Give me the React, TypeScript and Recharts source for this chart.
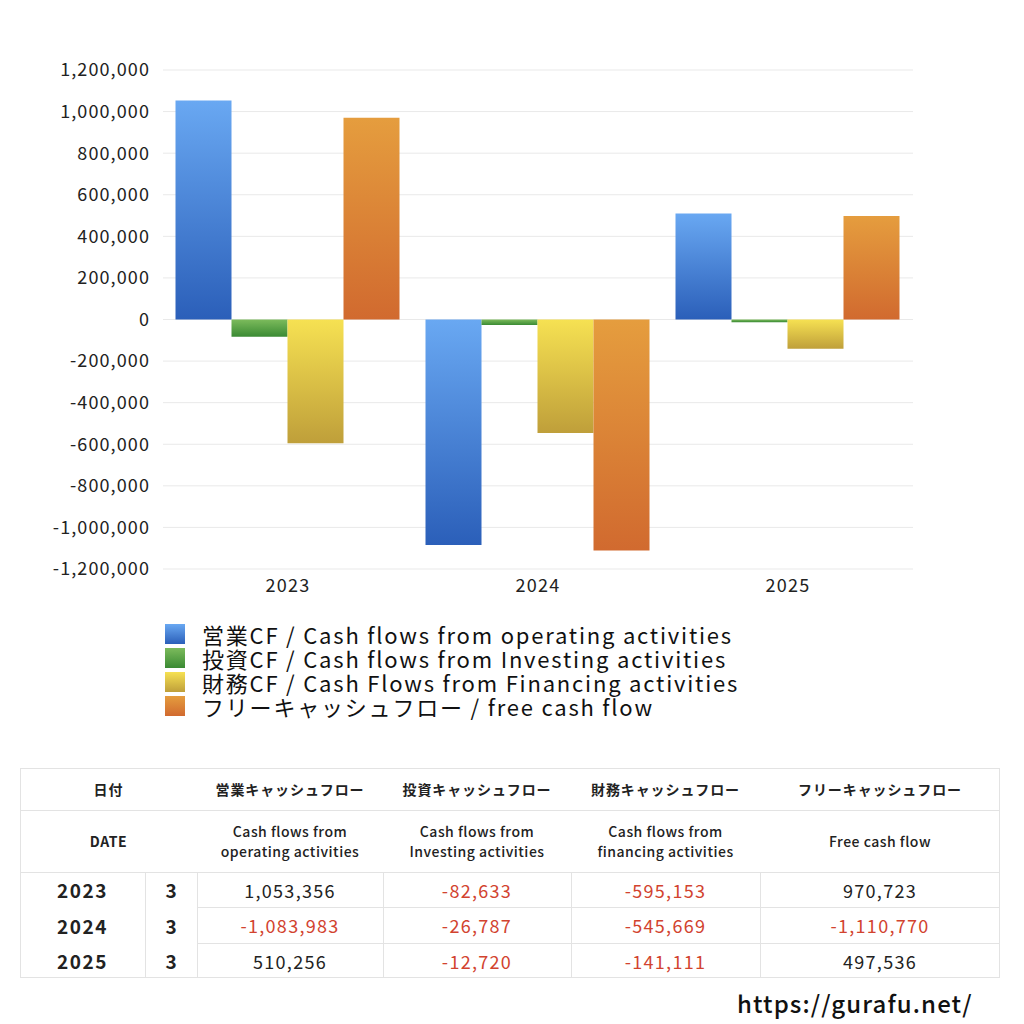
import React from 'react';
import { BarChart, Bar, XAxis, YAxis, CartesianGrid } from 'recharts';

const years = ['2023', '2024', '2025'];
const months = ['3', '3', '3'];
const operating = [1053356, -1083983, 510256];
const investing = [-82633, -26787, -12720];
const financing = [-595153, -545669, -141111];
const freeCash = [970723, -1110770, 497536];
const yTicks = [-1200000, -1000000, -800000, -600000, -400000, -200000, 0, 200000, 400000, 600000, 800000, 1000000, 1200000];

const seriesNames = [
  '営業CF / Cash flows from operating activities',
  '投資CF / Cash flows from Investing activities',
  '財務CF / Cash Flows from Financing activities',
  'フリーキャッシュフロー / free cash flow',
];
const headJa = ['営業キャッシュフロー', '投資キャッシュフロー', '財務キャッシュフロー', 'フリーキャッシュフロー'];
const headEn = [['Cash flows from', 'operating activities'], ['Cash flows from', 'Investing activities'], ['Cash flows from', 'financing activities'], ['Free cash flow']];

const gradients = [
  { id: 'gOp', top: '#69a8f2', bottom: '#2b5fb9' },
  { id: 'gInv', top: '#7cbb5c', bottom: '#3a8a33' },
  { id: 'gFin', top: '#f6e152', bottom: '#bf9f3a' },
  { id: 'gFree', top: '#e59d3e', bottom: '#d16a2f' },
];

const data = years.map((y, i) => ({
  year: y,
  op: operating[i],
  inv: investing[i],
  fin: financing[i],
  free: freeCash[i],
}));
const keys = ['op', 'inv', 'fin', 'free'];
const tableSeries = [operating, investing, financing, freeCash];

const font = '"Noto Sans CJK JP", "Noto Sans", sans-serif';
const fmt = (v: number) => v.toLocaleString('en-US');
const border = '#e3e3e3';

const colX = [20, 145, 197, 383, 571, 760, 1000];

export default function App() {
  return (
    <div style={{ position: 'absolute', left: 0, top: 0, width: 1024, height: 1024, background: '#fff', fontFamily: font, color: '#222' }}>
      <div style={{ position: 'absolute', left: 0, top: 0 }}>
        <BarChart width={1024} height={600} data={data} margin={{ top: 70, right: 111, left: 0, bottom: 1 }} barCategoryGap="5%" barGap={0}>
          <defs>
            {gradients.map((g) => (
              <linearGradient key={g.id} id={g.id} x1="0" y1="0" x2="0" y2="1">
                <stop offset="0%" stopColor={g.top} />
                <stop offset="100%" stopColor={g.bottom} />
              </linearGradient>
            ))}
          </defs>
          <CartesianGrid vertical={false} stroke="#e9e9e9" />
          <XAxis dataKey="year" axisLine={false} tickLine={false} tickMargin={4} tick={{ fontSize: 18, fill: '#222', fontFamily: font, style: { letterSpacing: '1.2px' } }} />
          <YAxis
            width={163}
            domain={[-1200000, 1200000]}
            ticks={yTicks}
            interval={0}
            axisLine={false}
            tickLine={false}
            tickMargin={7}
            tickFormatter={fmt}
            tick={{ fontSize: 18, fill: '#222', fontFamily: font, style: { letterSpacing: '1.1px' } }}
          />
          {keys.map((k, i) => (
            <Bar key={k} dataKey={k} fill={`url(#${gradients[i].id})`} isAnimationActive={false} />
          ))}
        </BarChart>
      </div>

      {/* Legend */}
      <div style={{ position: 'absolute', left: 165, top: 622 }}>
        {seriesNames.map((n, i) => (
          <div key={n} style={{ display: 'flex', alignItems: 'center', height: 24 }}>
            <div style={{ width: 20, height: 20, background: `linear-gradient(${gradients[i].top}, ${gradients[i].bottom})`, marginRight: 17 }} />
            <span style={{ fontSize: 22, lineHeight: '24px', color: '#111', whiteSpace: 'nowrap', letterSpacing: '1.8px' }}>{n}</span>
          </div>
        ))}
      </div>

      {/* Table */}
      <div style={{ position: 'absolute', left: 20, top: 768, width: 980, height: 210, border: `1px solid ${border}`, boxSizing: 'border-box' }} />
      <div style={{ position: 'absolute', left: 20, top: 810, width: 980, height: 1, background: border }} />
      <div style={{ position: 'absolute', left: 20, top: 872, width: 980, height: 1, background: border }} />
      <div style={{ position: 'absolute', left: 197, top: 907, width: 803, height: 1, background: border }} />
      <div style={{ position: 'absolute', left: 197, top: 943, width: 803, height: 1, background: border }} />
      {[145, 197, 383, 571, 760].map((x) => (
        <div key={x} style={{ position: 'absolute', left: x, top: 872, width: 1, height: 106, background: border }} />
      ))}

      <div style={{ position: 'absolute', left: 20, top: 768, width: 177, height: 42, display: 'flex', alignItems: 'center', justifyContent: 'center', fontSize: 14, fontWeight: 700, letterSpacing: '1px' }}>日付</div>
      <div style={{ position: 'absolute', left: 20, top: 810, width: 177, height: 62, display: 'flex', alignItems: 'center', justifyContent: 'center', fontSize: 14, fontWeight: 700, letterSpacing: '0.6px' }}>DATE</div>
      {headJa.map((h, i) => (
        <div key={h} style={{ position: 'absolute', left: colX[i + 2], top: 768, width: colX[i + 3] - colX[i + 2], height: 42, display: 'flex', alignItems: 'center', justifyContent: 'center', fontSize: 14, fontWeight: 700, letterSpacing: '0.9px' }}>{h}</div>
      ))}
      {headEn.map((h, i) => (
        <div key={i} style={{ position: 'absolute', left: colX[i + 2], top: 810, width: colX[i + 3] - colX[i + 2], height: 62, display: 'flex', flexDirection: 'column', alignItems: 'center', justifyContent: 'center', fontSize: 14, fontWeight: 500, lineHeight: '20px', letterSpacing: '0.5px' }}>
          {h.map((l) => <div key={l}>{l}</div>)}
        </div>
      ))}

      {years.map((y, r) => {
        const top = 872 + [0, 35, 71][r];
        const h = [35, 36, 35][r];
        return (
          <React.Fragment key={y}>
            <div style={{ position: 'absolute', left: 20, top, width: 125, height: h, display: 'flex', alignItems: 'center', justifyContent: 'center', fontSize: 19, fontWeight: 700, letterSpacing: '1.5px' }}>{y}</div>
            <div style={{ position: 'absolute', left: 145, top, width: 52, height: h, display: 'flex', alignItems: 'center', justifyContent: 'center', fontSize: 19, fontWeight: 700 }}>{months[r]}</div>
            {tableSeries.map((s, c) => (
              <div key={c} style={{ position: 'absolute', left: colX[c + 2], top, width: colX[c + 3] - colX[c + 2], height: h, display: 'flex', alignItems: 'center', justifyContent: 'center', fontSize: 18, letterSpacing: '1.3px', color: s[r] < 0 ? '#d2432f' : '#222' }}>{fmt(s[r])}</div>
            ))}
          </React.Fragment>
        );
      })}

      <div style={{ position: 'absolute', left: 737, top: 986, fontSize: 24, fontWeight: 500, color: '#111', lineHeight: '34px', letterSpacing: '1.1px' }}>https://gurafu.net/</div>
    </div>
  );
}
